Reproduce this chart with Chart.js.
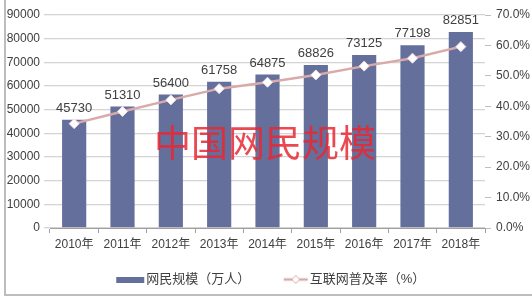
<!DOCTYPE html>
<html><head><meta charset="utf-8">
<script src="https://cdn.jsdelivr.net/npm/chart.js@4"></script>
<style>
html,body{margin:0;padding:0;background:#fff;}
#wrap{position:relative;width:532px;height:298px;}
#frame{position:absolute;left:4px;top:0;width:600px;height:294px;border-left:2px solid #bdbdbd;border-bottom:2px solid #bdbdbd;}
canvas{position:absolute;left:0;top:0;}
</style></head>
<body><div id="wrap"><div id="frame"></div><canvas id="c" width="532" height="298"></canvas></div>
<script>
const categories = ["2010年","2011年","2012年","2013年","2014年","2015年","2016年","2017年","2018年"];
const netizens = [45730, 51310, 56400, 61758, 64875, 68826, 73125, 77198, 82851];
const penetration = [34.3, 38.3, 42.1, 45.8, 47.9, 50.3, 53.2, 55.8, 59.6];
const seriesNames = ["网民规模（万人）", "互联网普及率（%）"];
const watermark = "中国网民规模";

const FONT = "'Liberation Sans', Arial, 'Noto Sans CJK SC', sans-serif";
const BAR = "#656f9c";
const LINE = "#d9aaaa";

function barSwatch(){const c=document.createElement('canvas');c.width=56;c.height=6;const x=c.getContext('2d');x.fillStyle=BAR;x.fillRect(21,0,28,6);return c;}
function lineSwatch(){const c=document.createElement('canvas');c.width=56;c.height=10;const x=c.getContext('2d');x.strokeStyle=LINE;x.lineWidth=2.5;x.beginPath();x.moveTo(25,5);x.lineTo(49,5);x.stroke();x.fillStyle='#fff';x.beginPath();x.moveTo(37,1);x.lineTo(41,5);x.lineTo(37,9);x.lineTo(33,5);x.closePath();x.fill();x.lineWidth=1;x.stroke();return c;}

const labelsPlugin = {
  id:'extras',
  beforeLayout(chart){
    const lg=chart.legend;
    if(lg && !lg._patched){
      const orig=lg.fit;
      lg.fit=function(){orig.call(this);this.height=45;};
      lg._patched=true;
    }
  },
  afterDatasetsDraw(chart){
    const ctx=chart.ctx;
    const meta=chart.getDatasetMeta(1);
    ctx.save();
    ctx.font="13px "+FONT;ctx.fillStyle="#404040";ctx.textAlign="center";ctx.textBaseline="bottom";
    meta.data.forEach((el,i)=>{ctx.fillText(String(netizens[i]),el.x,el.y-5);});
    ctx.restore();
  },
  afterDraw(chart){
    const ctx=chart.ctx;
    ctx.save();
    ctx.font="37px 'Noto Sans CJK SC', sans-serif";
    ctx.fillStyle="rgba(232,40,52,0.85)";ctx.textAlign="center";ctx.textBaseline="middle";
    ctx.fillText(watermark,265,143);
    ctx.restore();
  }
};

new Chart(document.getElementById('c'),{
  type:'bar',
  data:{labels:categories,datasets:[
    {type:'line',label:seriesNames[1],data:penetration,yAxisID:'y1',borderColor:LINE,borderWidth:2.5,
     pointStyle:'rectRot',pointRadius:5,pointBackgroundColor:'#fff',pointBorderColor:'#f0e0e0',pointBorderWidth:1,tension:0,order:0},
    {type:'bar',label:seriesNames[0],data:netizens,yAxisID:'y',backgroundColor:BAR,categoryPercentage:1,barPercentage:0.5,order:1}
  ]},
  options:{
    responsive:false,animation:false,
    layout:{padding:{top:15,right:0,left:0,bottom:0}},
    plugins:{
      tooltip:{enabled:false},
      legend:{position:'bottom',
        labels:{usePointStyle:true,pointStyleWidth:33,padding:20,color:'#404040',font:{family:FONT,size:13},
          generateLabels(chart){
            return [
              {text:seriesNames[0],pointStyle:barSwatch(),datasetIndex:1,fillStyle:BAR,strokeStyle:BAR,lineWidth:0,fontColor:'#404040'},
              {text:seriesNames[1],pointStyle:lineSwatch(),datasetIndex:0,fillStyle:LINE,strokeStyle:LINE,lineWidth:0,fontColor:'#404040'}
            ];
          }}}
    },
    scales:{
      x:{offset:true,grid:{offset:true,display:true,drawOnChartArea:false,drawTicks:true,tickLength:5,color:'#a0a0a0'},
         border:{color:'#a0a0a0'},
         ticks:{color:'#404040',font:{family:FONT,size:12},padding:4,maxRotation:0,autoSkip:false},
         afterFit(s){s.height=25;}},
      y:{type:'linear',position:'left',min:0,max:90000,
         ticks:{stepSize:10000,color:'#404040',font:{family:FONT,size:12},padding:4,callback:v=>String(v)},
         grid:{color:'#d4d4d4',lineWidth:1.3,tickLength:6},border:{display:false},
         afterFit(s){s.width=50;}},
      y1:{type:'linear',position:'right',min:0,max:70,
         ticks:{stepSize:10,color:'#404040',font:{family:FONT,size:12},padding:5,callback:v=>v.toFixed(1)+'%'},
         grid:{drawOnChartArea:false,color:'#c0c0c0',tickLength:6},border:{display:false},
         afterFit(s){s.width=47;}}
    }
  },
  plugins:[labelsPlugin]
});
</script></body></html>
